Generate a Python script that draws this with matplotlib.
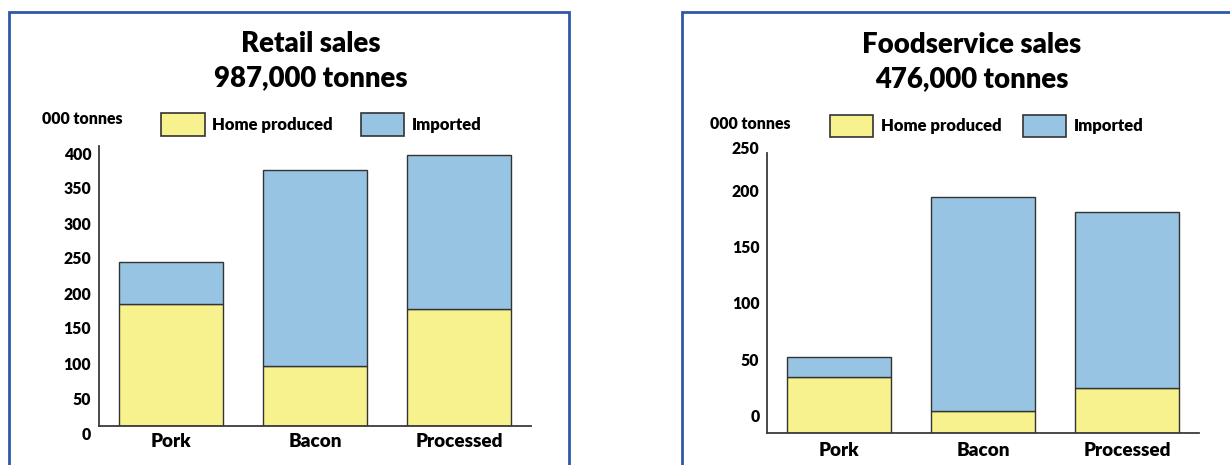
import matplotlib
matplotlib.use("Agg")
import matplotlib.pyplot as plt
from matplotlib.patches import Rectangle
from matplotlib.lines import Line2D
from matplotlib.transforms import ScaledTranslation

# ---------------- data ----------------
categories = ["Pork", "Bacon", "Processed"]
series_names = ["Home produced", "Imported"]

retail_home = [175, 86, 167]
retail_imported = [59, 280, 220]
retail_title = "Retail sales\n987,000 tonnes"
retail_ticks = [0, 50, 100, 150, 200, 250, 300, 350, 400]

food_home = [50, 20, 40]
food_imported = [18, 191, 157]
food_title = "Foodservice sales\n476,000 tonnes"
food_ticks = [0, 50, 100, 150, 200, 250]

unit_label = "000 tonnes"

# ---------------- style ----------------
W, H = 1230, 465
FONT = "Lato"
WEIGHT = "heavy"
YELLOW = "#F8F28E"
BLUE = "#98C4E3"
EDGE = "#333333"
BORDER = "#2F58A8"

plt.rcParams["font.family"] = [FONT, "DejaVu Sans"]
plt.rcParams["font.weight"] = WEIGHT

fig = plt.figure(figsize=(W / 100, H / 100), dpi=100)
fig.patch.set_facecolor("white")


def fx(x):
    return x / W


def fy(y):
    return 1 - y / H


def add_axes_px(left, right, top, bottom):
    return fig.add_axes([fx(left), fy(bottom), (right - left) / W, (bottom - top) / H])


def draw_panel(ax, home, imported, ticks, ymax, label_offsets_px, xpad):
    x = list(range(len(categories)))
    ax.bar(x, home, width=0.72, color=YELLOW, edgecolor=EDGE, linewidth=1.0,
           label=series_names[0], zorder=2)
    ax.bar(x, imported, width=0.72, bottom=home, color=BLUE, edgecolor=EDGE,
           linewidth=1.0, label=series_names[1], zorder=2)
    ax.set_xlim(-0.5, 2.5)
    ax.set_ylim(0, ymax)
    ax.set_xticks(x)
    ax.set_xticklabels(categories, fontsize=13.6, fontweight=WEIGHT)
    ax.set_yticks(ticks)
    ax.set_yticklabels([str(t) for t in ticks], fontsize=11.3, fontweight=WEIGHT)
    ax.tick_params(axis="both", length=0)
    ax.tick_params(axis="y", pad=5.5)
    ax.tick_params(axis="x", pad=xpad)
    for s in ("top", "right"):
        ax.spines[s].set_visible(False)
    for s in ("left", "bottom"):
        ax.spines[s].set_color("#3a3a3a")
        ax.spines[s].set_linewidth(1.3)
    ax.set_facecolor("none")
    for lab, off in zip(ax.get_yticklabels(), label_offsets_px):
        lab.set_transform(lab.get_transform() +
                          ScaledTranslation(0, off / 100, fig.dpi_scale_trans))


# Left: retail
ax1 = add_axes_px(98.8, 531, 146, 426)
draw_panel(ax1, retail_home, retail_imported, retail_ticks, 400,
           [-7] * len(retail_ticks), 5.2)

# Right: foodservice
ax2 = add_axes_px(767.1, 1199, 152.9, 433.3)
draw_panel(ax2, food_home, food_imported, food_ticks, 250,
           [18.3, 18.2, 18.4, 18.4, 18, 5.2], 6.5)

# Titles
fig.text(fx(310.5), fy(61), retail_title, ha="center", va="center",
         fontsize=19.8, fontweight=WEIGHT, linespacing=1.42)
fig.text(fx(972), fy(62), food_title, ha="center", va="center",
         fontsize=19.8, fontweight=WEIGHT, linespacing=1.42)

# unit labels
fig.text(fx(41.5), fy(119), unit_label, ha="left", va="center",
         fontsize=11.4, fontweight=WEIGHT)
fig.text(fx(710), fy(124), unit_label, ha="left", va="center",
         fontsize=11.4, fontweight=WEIGHT)


# Legends (manual, positioned to match reference)
def legend(items, ytop, ybot):
    for (x0, x1, tx), name, col in zip(items, series_names, [YELLOW, BLUE]):
        fig.add_artist(Rectangle((fx(x0), fy(ybot)), (x1 - x0) / W, (ybot - ytop) / H,
                                 transform=fig.transFigure, facecolor=col,
                                 edgecolor=EDGE, linewidth=1.2))
        fig.text(fx(tx), fy((ytop + ybot) / 2), name, ha="left", va="center",
                 fontsize=12, fontweight=WEIGHT)


legend([(161.3, 205.1, 212.3), (360.5, 404, 411.5)], 113.3, 135.7)
legend([(830, 873.3, 880.7), (1022.7, 1066.3, 1073.6)], 115.5, 137.5)

# Panel borders
fig.add_artist(Line2D([fx(8.7), fx(8.7), fx(569.3), fx(569.3)],
                      [fy(470), fy(12.3), fy(12.3), fy(470)],
                      transform=fig.transFigure, color=BORDER, linewidth=2.0,
                      solid_joinstyle="miter"))
fig.add_artist(Line2D([fx(681.5), fx(681.5), fx(1240)],
                      [fy(470), fy(12.3), fy(12.3)],
                      transform=fig.transFigure, color=BORDER, linewidth=2.0,
                      solid_joinstyle="miter"))

fig.savefig("out.png", dpi=100, facecolor="white")
